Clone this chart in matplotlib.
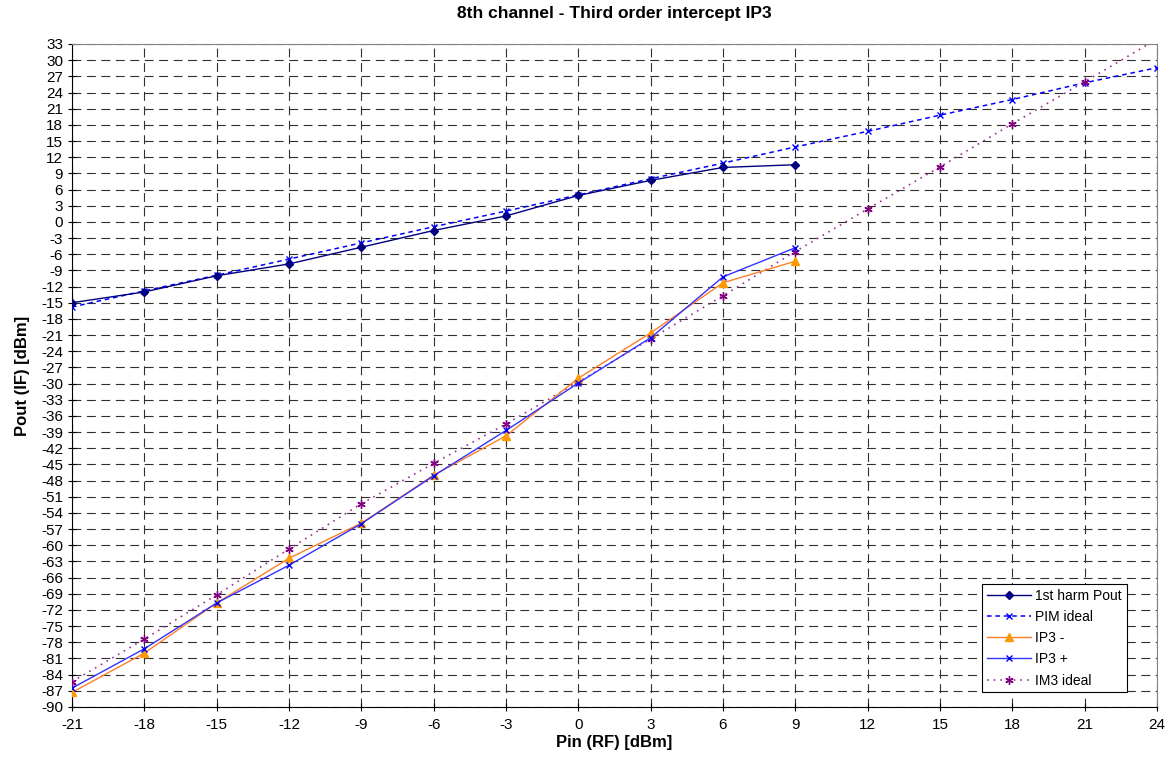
import numpy as np
from matplotlib import pyplot as plt

plt.rcParams['font.family'] = ['Liberation Sans', 'DejaVu Sans']
plt.rcParams['axes.unicode_minus'] = False

# input power points [dBm]
pin = [-21, -18, -15, -12, -9, -6, -3, 0, 3, 6, 9, 12, 15, 18, 21, 24]
pin_meas = pin[:11]

harm1 = [-15.0, -13.0, -10.0, -7.8, -4.7, -1.6, 1.1, 4.9, 7.7, 10.1, 10.6]
ip3_minus = [-87.3, -80.0, -70.7, -62.4, -55.9, -47.0, -39.7, -29.0, -20.6, -11.3, -7.3]
ip3_plus = [-86.5, -79.2, -70.7, -63.7, -56.0, -47.1, -38.7, -29.9, -21.5, -10.2, -4.8]

# ideal extrapolations
pim_ideal = [-15.8, -12.8, -9.9, -6.9, -3.9, -0.9, 2.0, 5.0, 8.0, 10.9, 13.9,
             16.8, 19.8, 22.7, 25.8, 28.6]
im3_ideal = [-85.3, -77.4, -69.2, -60.7, -52.3, -44.8, -37.5, -29.7, -21.7, -13.7, -5.5,
             2.4, 10.2, 18.2, 26.0, 33.9]

yticks = np.arange(-90, 34, 3)
xticks = np.arange(-21, 25, 3)

fig = plt.figure(figsize=(11.73, 7.62), dpi=100)
ax = fig.add_axes([72 / 1173, 1 - 707 / 762, (1157 - 72) / 1173, (707 - 44) / 762])

ax.plot(pin_meas, harm1, color='#000080', lw=1, marker='D', ms=4,
        label='1st harm Pout', zorder=5)
ax.plot(pin, pim_ideal, color='#0000FF', lw=1.1, ls=(0, (3, 2.5)), marker='x', ms=5,
        mew=1, label='PIM ideal', zorder=4)
ax.plot(pin_meas, ip3_minus, color='#FF7F27', lw=1, marker='^', ms=5.5,
        mfc='#FF9900', mec='#FF9900', label='IP3 -', zorder=5)
ax.plot(pin_meas, ip3_plus, color='#3333FF', lw=1, marker='x', ms=5, mew=1,
        mec='#0000FF', label='IP3 +', zorder=6)
ax.plot(pin, im3_ideal, color='#993399', lw=1.2, ls=(0, (1, 3)), marker=(6, 2, 0), ms=6,
        mew=1, mec='#800080', label='IM3 ideal', zorder=4)

ax.set_xlim(-21, 24)
ax.set_ylim(-90, 33)
ax.set_xticks(xticks)
ax.set_yticks(yticks)
ax.tick_params(labelsize=11, direction='inout', length=6, width=0.8)
ax.tick_params(axis='x', pad=5)
ax.grid(True, color='#303030', ls=(0, (8, 5)), lw=0.8)
for s in ['top', 'right']:
    ax.spines[s].set_color('#808080')
for s in ['left', 'bottom']:
    ax.spines[s].set_color('black')

ax.set_title('8th channel - Third order intercept IP3', fontsize=12.5, fontweight='bold', pad=19)
ax.set_xlabel('Pin (RF) [dBm]', fontsize=12, fontweight='bold', labelpad=2)
ax.set_ylabel('Pout (IF) [dBm]', fontsize=12, fontweight='bold', labelpad=8)

leg = ax.legend(loc='lower right', bbox_to_anchor=(0.972, 0.022), fontsize=10,
                fancybox=False, framealpha=1, edgecolor='black', borderpad=0.35,
                labelspacing=0.52, handlelength=3.2, handletextpad=0.3, borderaxespad=0)
leg.get_frame().set_linewidth(0.8)

plt.savefig('out.png', dpi=100)
